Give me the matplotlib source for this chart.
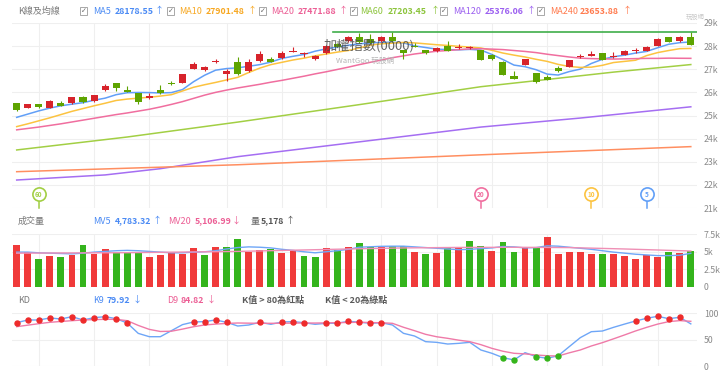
import numpy as np
import matplotlib.pyplot as plt
from matplotlib.patches import Rectangle

plt.rcParams['font.family'] = ['Noto Sans CJK TC', 'DejaVu Sans']

# ---- data ----
opens = [25520, 25332, 25491, 25332, 25534, 25520, 25809, 25607, 26083, 26400,
         26097, 25967, 25736, 26097, 26415, 26415, 27006, 26977, 27324, 26775,
         27295, 26934, 27338, 27439, 27468, 27742, 27656, 27439, 27700, 28100,
         28233, 28377, 28300, 28233, 28406, 27829, 28016, 27829, 27771, 28016,
         27901, 27901, 27829, 27612, 27324, 26718, 27194, 26819, 26646, 27035,
         27107, 27511, 27583, 27684, 27540, 27612, 27771, 27800, 28016, 28377,
         28204, 28377]
highs = [25560, 25510, 25510, 25680, 25635, 25800, 25850, 25900, 26357, 26420,
         26256, 25990, 25953, 26328, 26501, 26790, 27324, 27151, 27454, 27006,
         27540, 27440, 27771, 27540, 27800, 27944, 27728, 27620, 28050, 28150,
         28450, 28550, 28521, 28440, 28594, 27850, 28117, 27850, 27944, 28204,
         28088, 27990, 27850, 27640, 27340, 26934, 27460, 26840, 26750, 27150,
         27420, 27650, 27800, 27700, 27730, 27830, 27900, 28000, 28330, 28400,
         28430, 28594]
lows = [25200, 25310, 25320, 25320, 25400, 25500, 25550, 25590, 26040, 26068,
        26010, 25491, 25720, 25940, 26340, 26400, 26990, 26905, 27266, 26501,
        26770, 26862, 27320, 27310, 27450, 27730, 27540, 27420, 27680, 27950,
        28200, 28130, 28100, 28200, 28180, 27439, 27960, 27670, 27750, 27790,
        27880, 27880, 27380, 27420, 26730, 26560, 27180, 26410, 26520, 26900,
        27090, 27470, 27560, 27380, 27500, 27600, 27700, 27780, 28000, 28180,
        28190, 28040]
closes = [25231, 25491, 25347, 25635, 25419, 25780, 25563, 25881, 26270, 26169,
          26025, 25563, 25852, 25953, 26357, 26775, 27208, 27078, 27367, 26934,
          26790, 27295, 27656, 27324, 27713, 27771, 27684, 27584, 28000, 27980,
          28406, 28161, 28120, 28406, 28204, 27713, 27973, 27684, 27901, 27800,
          27973, 27944, 27396, 27439, 26747, 26573, 27439, 26429, 26530, 26934,
          27396, 27583, 27656, 27396, 27583, 27800, 27829, 27973, 28305, 28190,
          28406, 28060]
prev_close = 25150

ma5 = [24920, 25060, 25200, 25320, 25420, 25490, 25555, 25660, 25750, 25900,
       25985, 25995, 25990, 25975, 25990, 26120, 26460, 26740, 26960, 27030,
       27060, 27130, 27200, 27310, 27470, 27560, 27640, 27780, 27880, 27960,
       28040, 28100, 28140, 28160, 28170, 28140, 28010, 27940, 27870, 27850,
       27840, 27860, 27830, 27640, 27420, 27180, 27110, 26980, 26790, 26750,
       26900, 27006, 27250, 27430, 27540, 27610, 27700, 27771, 27930, 28080,
       28150, 28180]
ma10 = [24520, 24640, 24770, 24900, 25040, 25180, 25300, 25420, 25530, 25650,
        25710, 25750, 25790, 25840, 25900, 26060, 26220, 26330, 26430, 26540,
        26650, 26860, 27050, 27200, 27300, 27400, 27480, 27580, 27660, 27740,
        27810, 27920, 28040, 28100, 28130, 28160, 28140, 28100, 28060, 28030,
        27990, 27960, 27920, 27820, 27700, 27610, 27530, 27430, 27340, 27210,
        27120, 27080, 27090, 27170, 27290, 27340, 27390, 27590, 27720, 27810,
        27890, 27900]
ma20 = [24380, 24440, 24500, 24570, 24640, 24720, 24800, 24880, 24960, 25040,
        25110, 25190, 25270, 25370, 25480, 25600, 25740, 25880, 26000, 26100,
        26190, 26270, 26350, 26440, 26520, 26610, 26700, 26800, 26890, 26990,
        27090, 27200, 27300, 27400, 27500, 27580, 27660, 27720, 27780, 27810,
        27850, 27880, 27890, 27870, 27850, 27810, 27770, 27720, 27650, 27590,
        27530, 27480, 27460, 27450, 27440, 27450, 27460, 27470, 27470, 27480,
        27475, 27472]
ma60_idx = [0, 10, 20, 31, 42, 48, 54, 61]
ma60 = [23510, 24070, 24715, 25470, 26245, 26558, 26876, 27203]
ma120_idx = [0, 8, 13, 20, 31, 42, 51, 61]
ma120 = [22210, 22430, 22700, 23220, 23860, 24500, 24890, 25376]
ma240_idx = [0, 20, 42, 61]
ma240 = [22570, 22870, 23300, 23654]

volume = [5925, 4913, 3900, 4335, 4300, 4537, 5982, 4725, 5347, 4913,
          4770, 4770, 4300, 4537, 4770, 4725, 5549, 4482, 5620, 5722,
          6893, 4960, 5300, 5347, 4870, 5100, 4450, 4280, 5549, 5300,
          5722, 6213, 5693, 5650, 5881, 5881, 4913, 4680, 4820, 5693,
          5600, 6503, 5840, 5100, 6360, 4913, 5740, 5500, 7180, 4725,
          5000, 4913, 4680, 4725, 4630, 4335, 3900, 4480, 4190, 5000,
          4870, 5178]
mv5 = [4950, 4950, 4850, 4800, 4750, 4700, 4800, 4950, 5050, 5150,
       5200, 5150, 5050, 4950, 4850, 4850, 4950, 5000, 5150, 5400,
       5600, 5700, 5650, 5550, 5350, 5200, 5000, 4850, 5000, 5150,
       5350, 5650, 5720, 5780, 5800, 5800, 5700, 5600, 5500, 5400,
       5300, 5350, 5450, 5550, 5750, 5700, 5550, 5600, 5850, 5800,
       5650, 5500, 5350, 5150, 4950, 4800, 4650, 4550, 4450, 4450,
       4500, 4783]
mv20_idx = [0, 10, 20, 30, 35, 40, 45, 50, 55, 61]
mv20 = [4800, 4870, 5050, 5400, 5550, 5620, 5640, 5600, 5400, 5107]

k9 = [82.2, 87.3, 87.3, 91.1, 89.2, 93.6, 87.3, 91.7, 93.6, 89.8,
      81.6, 61.9, 55.6, 55.6, 67.0, 78.5, 83.5, 84.2, 87.3, 82.9,
      75.9, 77.8, 82.9, 79.1, 83.5, 84.2, 82.2, 79.1, 81.0, 81.0,
      84.8, 83.2, 81.0, 82.2, 77.8, 62.0, 56.9, 46.2, 44.9, 41.7,
      43.0, 44.9, 30.4, 24.1, 15.9, 11.4, 25.3, 17.8, 14.6, 19.5,
      36.7, 53.8, 65.1, 66.4, 73.3, 79.5, 85.4, 90.5, 94.3, 89.8,
      92.4, 79.92]
d9 = [74.6, 77.5, 80.3, 82.9, 84.5, 86.0, 87.3, 88.0, 88.6, 88.5,
      86.0, 77.0, 69.5, 65.5, 66.0, 70.0, 74.5, 77.8, 79.5, 80.8,
      81.6, 81.3, 81.0, 81.0, 81.2, 81.4, 81.6, 81.5, 81.8, 82.2,
      82.6, 83.0, 82.5, 82.0, 81.0, 73.5, 67.0, 60.1, 55.5, 52.5,
      49.0, 46.2, 40.5, 33.5, 28.0, 24.1, 23.0, 20.9, 19.5, 19.0,
      25.0, 30.4, 38.0, 44.3, 51.5, 58.9, 66.5, 73.3, 79.5, 84.2,
      86.1, 84.82]

week_starts = [2, 7, 12, 19, 24, 28, 33, 38, 43, 48, 53, 58]
ma_marks = [60, 20, 10, 5]

ma_labels = ['MA5', 'MA10', 'MA20', 'MA60', 'MA120', 'MA240']
ma_values = ['28178.55', '27901.48', '27471.88', '27203.45', '25376.06', '23653.88']

# ---- styling ----
W, H = 720, 379
C_UP, C_DN = '#d7232b', '#5ea400'
V_UP, V_DN = '#f03a3a', '#34b41c'
MA_COL = ['#619ff7', '#fcc340', '#f06e9f', '#a2cf44', '#a56ef2', '#ff8e60']
MA_TXT = ['#4a8af4', '#f7a823', '#ec5f95', '#8cc43c', '#9b5ff0', '#ff7a4d']
GRID = '#efefef'
XLIM = (-0.425, 61.56)
FS = 6.5
FV = 6.3

fig = plt.figure(figsize=(7.2, 3.79), dpi=100)


def box(l, t, r, b):
    return [l / W, 1 - b / H, (r - l) / W, (b - t) / H]


def style(a, ylim, ticks, labels):
    a.set_xlim(*XLIM)
    a.set_ylim(*ylim)
    for s in a.spines.values():
        s.set_visible(False)
    a.set_xticks([])
    a.yaxis.tick_right()
    a.set_yticks(ticks)
    a.set_yticklabels(labels)
    a.tick_params(axis='y', length=0, pad=5, labelsize=6.3, labelcolor='#8a8a8a')
    for t in ticks:
        a.axhline(t, color=GRID, lw=0.8, zorder=0)
    for w in week_starts:
        a.axvline(w, color=GRID, lw=0.8, zorder=0)


x = np.arange(len(closes))
o, h, l, c = map(np.array, (opens, highs, lows, closes))

# main candle panel
ax = fig.add_axes(box(12, 23, 697, 208))
style(ax, (21000, 29000), list(range(21000, 29001, 1000)),
      [f'{v // 1000}k' for v in range(21000, 29001, 1000)])

up = c >= o
ccol = np.where(up, C_UP, C_DN)
ax.vlines(x, l, h, colors=ccol, lw=0.8, zorder=3)
body = np.maximum(np.abs(c - o), 35)
ax.bar(x, body, bottom=np.minimum(o, c), width=0.64, color=ccol, zorder=4)

ma_series = [(x, ma5), (x, ma10), (x, ma20), (ma60_idx, ma60), (ma120_idx, ma120), (ma240_idx, ma240)]
for (xi, yi), col in zip(ma_series, MA_COL):
    ax.plot(xi, yi, color=col, lw=1.1, zorder=2)

# highest-price line
ax.plot([28.6, XLIM[1]], [max(highs)] * 2, color='#3fae4a', lw=1.2, zorder=5)

# MA start markers
for n, col in zip(ma_marks, [MA_COL[3], MA_COL[2], MA_COL[1], MA_COL[0]]):
    i = len(closes) - n
    ax.plot([i, i], [21000, 21450], color=col, lw=1.1, zorder=5, clip_on=False)
    ax.plot(i, 21600, 'o', ms=9.5, mfc='white', mec=col, mew=1.2, zorder=6, clip_on=False)
    ax.text(i, 21600, str(n), ha='center', va='center', fontsize=4.6,
            color=col, fontweight='bold', zorder=7)

ax.text(0.522, 0.875, '加權指數(0000)', transform=ax.transAxes, ha='center', va='center',
        fontsize=9.5, color='#4a4a4a', alpha=0.85, zorder=8)
ax.text(0.516, 0.795, 'WantGoo 玩股網', transform=ax.transAxes, ha='center', va='center',
        fontsize=5.5, color='#b5b5b5', zorder=8)

# volume panel
axv = fig.add_axes(box(12, 234.3, 697, 286.7))
style(axv, (0, 7500), [0, 2500, 5000, 7500], ['0', '2.5k', '5k', '7.5k'])
pc = np.concatenate([[prev_close], c[:-1]])
vcol = np.where(c >= pc, V_UP, V_DN)
axv.bar(x, volume, width=0.62, color=vcol, zorder=2)
axv.plot(x, mv5, color='#6ea6f7', lw=1.0, zorder=3)
axv.plot(mv20_idx, mv20, color='#ef8fb5', lw=1.0, zorder=3)

# KD panel
axk = fig.add_axes(box(12, 313.3, 697, 366))
style(axk, (0, 100), [0, 50, 100], ['0', '50', '100'])
k = np.array(k9)
axk.plot(x, k9, color='#6ea6f7', lw=1.0, zorder=2)
axk.plot(x, d9, color='#ef7aa8', lw=1.0, zorder=2)
axk.plot(x[k > 80], k[k > 80], 'o', ms=3.6, color='#ee2b2b', zorder=3, clip_on=False)
axk.plot(x[k < 20], k[k < 20], 'o', ms=3.6, color='#35b51b', zorder=3, clip_on=False)


# ---- header texts ----
def put(px, py, s, col, wt='normal', size=FS):
    fig.text(px / W, 1 - py / H, s, color=col, fontsize=size, fontweight=wt,
             ha='left', va='center')


def checkbox(px, py):
    fig.patches.append(Rectangle((px / W, 1 - (py + 3.5) / H), 7 / W, 7 / H, transform=fig.transFigure,
                                 fill=True, fc='white', ec='#9a9a9a', lw=0.6))
    fig.text((px + 3.5) / W, 1 - py / H, '✓', fontsize=5, color='#666666',
             ha='center', va='center', family=['DejaVu Sans'])


put(18, 11, 'K線及均線', '#7a7a7a')
box_x = [80, 167, 259, 350, 440, 537]
name_x = [93, 179, 271, 360, 453, 550]
val_x = [115, 205.5, 297.5, 388, 485, 580]
arr_x = [155, 248, 339, 430.5, 526.5, 622.5]
for bx, nx, vx, axx, name, val, col in zip(box_x, name_x, val_x, arr_x, ma_labels, ma_values, MA_TXT):
    checkbox(bx, 11)
    put(nx, 11, name, col)
    put(vx, 11, val, col, 'bold', FV)
    put(axx, 11, '↑', col)

fig.text(695 / W, 1 - 17 / H, '玩股網', fontsize=4.5, color='#c8c8c8', ha='center', va='center')

put(18, 221, '成交量', '#7a7a7a')
put(92.7, 221, 'MV5', MA_TXT[0])
put(115, 221, '4,783.32', MA_TXT[0], 'bold', FV)
put(152.5, 221, '↑', MA_TXT[0])
put(168, 221, 'MV20', MA_TXT[2])
put(195, 221, '5,106.99', MA_TXT[2], 'bold', FV)
put(231.5, 221, '↓', MA_TXT[2])
put(250.5, 221, '量', '#666666')
put(261, 221, '5,178', '#555555', 'bold', FV)
put(285.5, 221, '↑', '#555555')

put(18, 300.5, 'KD', '#7a7a7a')
put(92.7, 300.5, 'K9', MA_TXT[0])
put(107, 300.5, '79.92', MA_TXT[0], 'bold', FV)
put(133, 300.5, '↓', MA_TXT[0])
put(166.7, 300.5, 'D9', MA_TXT[2])
put(181, 300.5, '84.82', MA_TXT[2], 'bold', FV)
put(207, 300.5, '↓', MA_TXT[2])
put(242.3, 300.5, 'K值 > 80為紅點', '#5a5a5a', 'bold')
put(325, 300.5, 'K值 < 20為綠點', '#5a5a5a', 'bold')

fig.savefig('out.png', dpi=100, facecolor='white')
